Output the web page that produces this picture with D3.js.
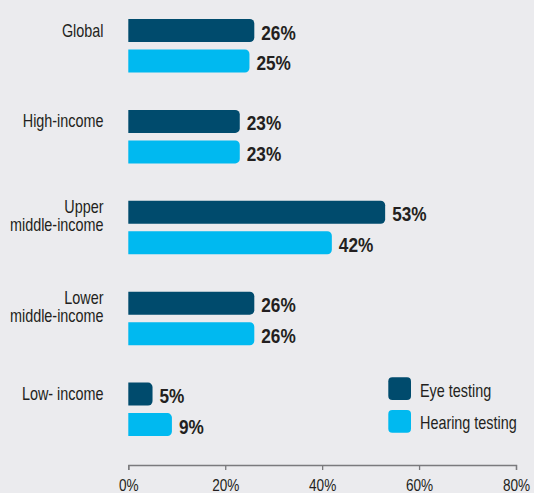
<!DOCTYPE html>
<html>
<head>
<meta charset="utf-8">
<script src="https://cdn.jsdelivr.net/npm/d3@7"></script>
<style>
  html, body { margin: 0; padding: 0; background: #ebebee; }
  svg { display: block; }
  text { font-family: "Liberation Sans", Arial, sans-serif; fill: #231f20; }
</style>
</head>
<body>
<svg id="chart" width="534" height="493"></svg>
<script>
// ---- data ----
const categories = ["Global", "High-income", "Upper\nmiddle-income", "Lower\nmiddle-income", "Low- income"];
const seriesNames = ["Eye testing", "Hearing testing"];
const eyeTesting = [26, 23, 53, 26, 5];
const hearingTesting = [25, 23, 42, 26, 9];
const tickValues = [0, 20, 40, 60, 80];
const seriesColors = ["#004b6d", "#00b9f0"];

const seriesValues = [eyeTesting, hearingTesting];
const rows = categories.map((c, i) => ({
  cat: c,
  vals: seriesNames.map((s, j) => ({ series: s, value: seriesValues[j][i] }))
}));

const NARROW = 0.8; // horizontal compression to mimic a condensed face

const svg = d3.select("#chart");

const x = d3.scaleLinear().domain([0, 80]).range([128.3, 516]);
const y0 = d3.scaleBand().domain(categories).range([19, 436.1]).paddingInner(0.411).paddingOuter(0);
const y1 = d3.scaleBand().domain(seriesNames).range([0, y0.bandwidth()]).paddingInner(0.246).paddingOuter(0);
const color = d3.scaleOrdinal().domain(seriesNames).range(seriesColors);

function barPath(x0, y, w, h, r) {
  r = Math.min(r, w / 2, h / 2);
  return `M${x0},${y}H${x0 + w - r}A${r},${r} 0 0 1 ${x0 + w},${y + r}V${y + h - r}A${r},${r} 0 0 1 ${x0 + w - r},${y + h}H${x0}Z`;
}

// groups
const g = svg.append("g").selectAll("g.grp").data(rows).join("g")
  .attr("class", "grp")
  .attr("transform", d => `translate(0,${y0(d.cat)})`);

g.selectAll("path.bar").data(d => d.vals).join("path")
  .attr("class", "bar")
  .attr("fill", d => color(d.series))
  .attr("d", d => barPath(x(0), y1(d.series), x(d.value) - x(0), y1.bandwidth(), 4.5));

g.selectAll("g.val").data(d => d.vals).join("g")
  .attr("class", "val")
  .attr("transform", d => `translate(${x(d.value) + 7},${y1(d.series) + y1.bandwidth() / 2 + 9}) scale(0.82,1)`)
  .append("text")
  .attr("font-size", 21)
  .attr("font-weight", "bold")
  .text(d => d.value + "%");

// category labels
g.each(function (d) {
  const lines = d.cat.split("\n");
  const cy = y1(seriesNames[0]) + y1.bandwidth() / 2;
  const base = lines.length > 1 ? cy + 1 : cy + 6;
  const lg = d3.select(this).append("g")
    .attr("transform", `translate(103.5,${base}) scale(${NARROW},1)`);
  const t = lg.append("text")
    .attr("text-anchor", "end")
    .attr("font-size", 18);
  lines.forEach((ln, k) => {
    t.append("tspan").attr("x", 0).attr("y", k * 17.5).text(ln);
  });
});

// axis
const axis = d3.axisBottom(x)
  .tickValues(tickValues)
  .tickFormat(d => d + "%")
  .tickSize(5)
  .tickPadding(9);
const ax = svg.append("g").attr("transform", "translate(0,465)").call(axis);
ax.select(".domain").attr("stroke", "#7a7a7d").attr("stroke-width", 1.3);
ax.selectAll(".tick line").attr("stroke", "#7a7a7d").attr("stroke-width", 1.3);
ax.selectAll(".tick text")
  .attr("font-family", "\"Liberation Sans\", Arial, sans-serif")
  .attr("font-size", 17)
  .attr("fill", "#231f20")
  .attr("transform", `scale(${NARROW},1)`);

// legend
const legend = svg.append("g").attr("transform", "translate(388.3,377.3)");
const li = legend.selectAll("g").data(seriesNames).join("g")
  .attr("transform", (d, i) => `translate(0,${i * 32.7})`);
li.append("rect")
  .attr("width", 22.7).attr("height", 22.7).attr("rx", 4).attr("ry", 4)
  .attr("fill", d => color(d));
li.append("g")
  .attr("transform", `translate(31.7,19.4) scale(${NARROW},1)`)
  .append("text")
  .attr("font-size", 18)
  .text(d => d);
</script>
</body>
</html>
